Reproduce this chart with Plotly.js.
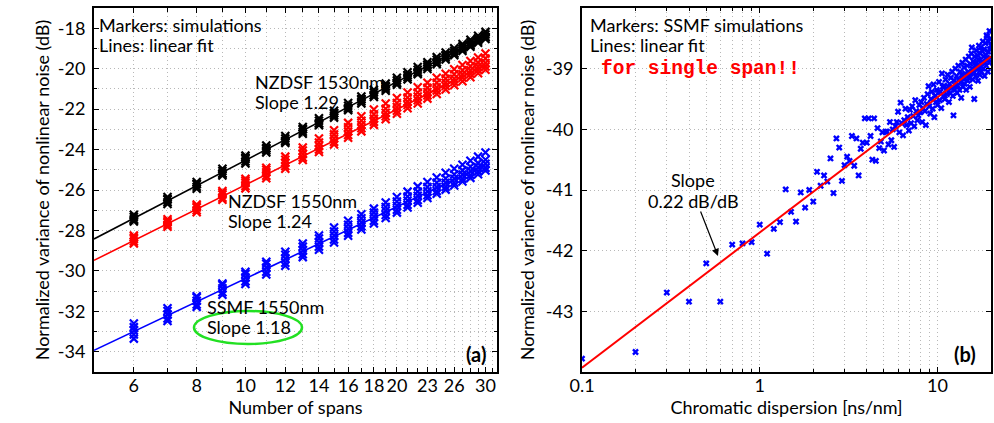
<!DOCTYPE html>
<html><head><meta charset="utf-8">
<script src="https://cdn.plot.ly/plotly-3.0.1.min.js"></script>
<style>html,body{margin:0;padding:0;background:#fff}#chart{width:994px;height:423px}</style>
</head><body><div id="chart"></div>
<script>
// ---------- Panel (a): nonlinear noise vs number of spans ----------
const spans = [6,7,8,9,10,11,12,13,14,15,16,17,18,19,20,21,22,23,24,25,26,27,28,29,30];
const spanTickVals = [6,8,10,12,14,16,18,20,23,26,30];
const spanMinorVals = [5,6,7,8,9,10,11,12,13,14,15,16,17,18,19,20,21,22,23,24,25,26,27,28,29,30,31];
const noiseTickVals = [-34,-32,-30,-28,-26,-24,-22,-20,-18];
const noiseTickText = ['-34','-32','-30','-28','-26','-24','-22','-20','-18'];
const noiseMinorVals = [-35,-33,-31,-29,-27,-25,-23,-21,-19,-17];

// NZDSF 1530nm simulations (several runs, one value per span)
const nzdsf1530Runs = [
  [-27.22,-26.35,-25.60,-24.95,-24.30,-23.80,-23.33,-22.88,-22.45,-22.08,-21.70,-21.38,-21.05,-20.74,-20.45,-20.18,-19.92,-19.68,-19.43,-19.20,-18.99,-18.78,-18.57,-18.37,-18.18],
  [-27.33,-26.47,-25.71,-25.06,-24.47,-23.93,-23.45,-22.99,-22.58,-22.20,-21.83,-21.50,-21.18,-20.87,-20.58,-20.31,-20.05,-19.80,-19.56,-19.33,-19.12,-18.90,-18.70,-18.50,-18.31],
  [-27.45,-26.60,-25.84,-25.18,-24.59,-24.05,-23.57,-23.12,-22.70,-22.32,-21.95,-21.62,-21.30,-20.99,-20.70,-20.43,-20.17,-19.92,-19.68,-19.45,-19.24,-19.02,-18.82,-18.62,-18.43],
  [-27.56,-26.69,-25.94,-25.28,-24.69,-24.15,-23.67,-23.22,-22.80,-22.42,-22.05,-21.72,-21.40,-21.09,-20.80,-20.53,-20.27,-20.02,-19.78,-19.55,-19.34,-19.12,-18.92,-18.72,-18.53],
  [-27.50,-26.45,-25.70,-25.20,-24.40,-23.95,-23.60,-23.00,-22.72,-22.20,-21.98,-21.52,-21.32,-20.88,-20.72,-20.33,-20.20,-19.82,-19.70,-19.35,-19.27,-18.92,-18.85,-18.52,-18.45]
];
// NZDSF 1550nm simulations
const nzdsf1550Runs = [
  [-28.25,-27.45,-26.72,-26.05,-25.45,-24.90,-24.35,-23.90,-23.45,-23.05,-22.68,-22.35,-22.02,-21.72,-21.45,-21.18,-20.92,-20.70,-20.45,-20.25,-20.03,-19.82,-19.62,-19.45,-19.25],
  [-28.35,-27.55,-26.80,-26.12,-25.55,-25.00,-24.50,-24.05,-23.65,-23.25,-22.90,-22.58,-22.25,-21.98,-21.70,-21.43,-21.18,-20.95,-20.70,-20.50,-20.28,-20.08,-19.88,-19.70,-19.50],
  [-28.42,-27.60,-26.87,-26.22,-25.65,-25.12,-24.65,-24.22,-23.82,-23.45,-23.10,-22.78,-22.47,-22.18,-21.90,-21.63,-21.38,-21.15,-20.92,-20.70,-20.50,-20.28,-20.08,-19.90,-19.72],
  [-28.55,-27.72,-27.00,-26.38,-25.80,-25.30,-24.82,-24.40,-24.00,-23.62,-23.28,-22.95,-22.63,-22.35,-22.08,-21.80,-21.56,-21.32,-21.08,-20.86,-20.66,-20.45,-20.26,-20.07,-19.89],
  [-28.65,-27.82,-27.10,-26.48,-25.92,-25.42,-24.95,-24.52,-24.12,-23.75,-23.42,-23.10,-22.78,-22.50,-22.23,-21.96,-21.72,-21.48,-21.25,-21.03,-20.82,-20.62,-20.42,-20.23,-20.05]
];
// SSMF 1550nm simulations
const ssmf1550Runs = [
  [-32.60,-31.85,-31.25,-30.62,-30.05,-29.55,-29.05,-28.65,-28.25,-27.85,-27.52,-27.20,-26.92,-26.62,-26.35,-26.08,-25.82,-25.60,-25.38,-25.15,-24.95,-24.75,-24.55,-24.35,-24.15],
  [-32.78,-31.98,-31.32,-30.70,-30.15,-29.65,-29.20,-28.80,-28.40,-28.05,-27.72,-27.40,-27.12,-26.84,-26.57,-26.32,-26.08,-25.85,-25.64,-25.43,-25.23,-25.03,-24.85,-24.67,-24.50],
  [-32.95,-32.15,-31.48,-30.86,-30.32,-29.84,-29.40,-28.98,-28.60,-28.25,-27.92,-27.60,-27.32,-27.03,-26.78,-26.52,-26.28,-26.06,-25.85,-25.64,-25.44,-25.24,-25.06,-24.88,-24.70],
  [-33.15,-32.35,-31.66,-31.06,-30.52,-30.04,-29.60,-29.18,-28.80,-28.45,-28.12,-27.80,-27.52,-27.24,-26.98,-26.73,-26.49,-26.26,-26.05,-25.84,-25.64,-25.44,-25.26,-25.08,-24.90],
  [-33.35,-32.48,-31.78,-31.18,-30.65,-30.18,-29.75,-29.32,-28.95,-28.60,-28.26,-27.95,-27.66,-27.38,-27.12,-26.87,-26.63,-26.40,-26.19,-25.98,-25.78,-25.58,-25.40,-25.22,-25.04]
];
// Linear fits (end points)
const fitSpans = [5, 30];
const nzdsf1530Fit = [-28.42, -18.38];
const nzdsf1550Fit = [-29.48, -19.83];
const ssmf1550Fit  = [-33.93, -24.75];

// ---------- Panel (b): single span, noise vs chromatic dispersion ----------
const dispTickVals = [0.1, 1, 10];
const dispTickText = ['0.1', '1', '10'];
const dispMinorVals = [0.2,0.3,0.4,0.5,0.6,0.7,0.8,0.9,2,3,4,5,6,7,8,9,20];
const singleTickVals = [-43,-42,-41,-40,-39];
const singleTickText = ['-43','-42','-41','-40','-39'];
const singleSpanSims = [
 [0.1,-43.78],[0.2,-43.67],[0.3,-42.69],[0.4,-42.84],[0.5,-42.21],[0.6,-42.84],[0.7,-41.90],[0.8,-41.88],[0.9,-41.86],
 [1.0,-41.57],[1.1,-42.05],[1.2,-41.64],[1.3,-41.53],[1.4,-40.99],[1.5,-41.36],[1.6,-41.52],[1.7,-41.04],[1.8,-41.29],[1.9,-41.00],[2.0,-41.19],
 [2.1,-40.70],[2.2,-40.93],[2.3,-40.76],[2.4,-40.86],[2.5,-40.48],[2.6,-41.05],[2.7,-40.15],[2.8,-40.30],[2.9,-40.85],[3.0,-40.59],
 [3.1,-40.45],[3.2,-40.52],[3.3,-40.11],[3.4,-40.60],[3.5,-40.15],[3.6,-40.76],[3.7,-40.32],[3.8,-40.22],[3.9,-39.82],[4.0,-40.22],
 [4.1,-39.82],[4.2,-40.11],[4.3,-40.50],[4.4,-39.82],[4.5,-40.52],[4.6,-39.98],[4.7,-40.31],[4.8,-40.20],[4.9,-40.05],[5.0,-40.35],
 [5.1,-40.04],[5.2,-40.04],[5.3,-40.25],[5.4,-39.88],[5.5,-40.18],[5.6,-40.00],[5.7,-40.29],[5.8,-39.95],[5.9,-39.88],[6.0,-39.71],
 [6.1,-40.05],[6.2,-39.56],[6.3,-39.90],[6.4,-40.10],[6.5,-39.85],[6.6,-39.66],[6.7,-39.93],[6.8,-39.80],[6.9,-40.02],[7.0,-39.68],
 [7.1,-39.90],[7.2,-39.62],[7.3,-39.78],[7.4,-39.95],[7.5,-39.52],[7.6,-39.70],[7.7,-39.85],[7.8,-39.77],[7.9,-39.60],[8.0,-39.72],
 [8.1,-39.55],[8.2,-39.88],[8.3,-39.65],[8.4,-39.48],[8.5,-39.70],[8.6,-39.93],[8.7,-39.58],[8.8,-39.42],[8.9,-39.29],[9.0,-39.62],
 [9.1,-39.74],[9.2,-39.50],[9.3,-39.38],[9.4,-39.66],[9.5,-39.26],[9.6,-39.80],[9.7,-39.45],[9.8,-39.55],[9.9,-39.35],[10.0,-39.60],
 [10.1,-39.40],[10.2,-39.22],[10.3,-39.52],[10.4,-39.38],[10.5,-39.65],[10.6,-39.08],[10.7,-39.30],[10.8,-39.45],[10.9,-39.28],[11.0,-39.50],
 [11.1,-39.18],[11.2,-39.35],[11.3,-39.42],[11.4,-39.10],[11.5,-39.30],[11.6,-39.55],[11.7,-39.25],[11.8,-39.40],[11.9,-39.15],[12.0,-39.32],
 [12.1,-39.05],[12.2,-39.45],[12.3,-39.77],[12.4,-39.20],[12.5,-39.35],[12.6,-39.00],[12.7,-39.28],[12.8,-39.12],[12.9,-39.40],[13.0,-39.28],
 [13.1,-38.95],[13.2,-39.18],[13.3,-39.35],[13.4,-39.05],[13.5,-39.22],[13.6,-39.48],[13.7,-39.10],[13.8,-38.90],[13.9,-39.30],[14.0,-39.17],
 [14.1,-38.98],[14.2,-39.25],[14.3,-39.08],[14.4,-38.85],[14.5,-39.35],[14.6,-39.12],[14.7,-38.95],[14.8,-39.20],[14.9,-39.05],[15.0,-38.80],
 [15.1,-39.15],[15.2,-39.30],[15.3,-38.92],[15.4,-39.08],[15.5,-38.75],[15.6,-38.65],[15.7,-39.00],[15.8,-39.18],[15.9,-38.88],[16.0,-39.05],
 [16.1,-39.50],[16.2,-38.80],[16.3,-38.95],[16.4,-39.12],[16.5,-38.70],[16.6,-38.90],[16.7,-39.02],[16.8,-38.78],[16.9,-39.20],[17.0,-38.85],
 [17.1,-38.62],[17.2,-38.98],[17.3,-39.10],[17.4,-38.75],[17.5,-38.65],[17.6,-38.92],[17.7,-39.05],[17.8,-38.70],[17.9,-38.88],[18.0,-38.55],
 [18.1,-39.00],[18.2,-38.80],[18.3,-38.68],[18.4,-39.12],[18.5,-38.90],[18.6,-38.58],[18.7,-38.78],[18.8,-38.95],[18.9,-38.45],[19.0,-38.47],
 [19.1,-38.85],[19.2,-39.05],[19.3,-38.72],[19.4,-38.55],[19.5,-38.90],[19.6,-38.38],[19.7,-38.68],[19.8,-38.82],[19.9,-38.50],[20.0,-38.62]
];
const dispFitX = [0.1, 20];
const dispFitY = [-43.93, -38.80];

// ---------- build ----------
const W = 994, H = 423;
const FONT = 'Lato, "Open Sans", sans-serif';
const FS = 18;
const px = v => v / W, py = v => 1 - v / H;

function runTrace(runs, color) {
  return {
    type: 'scatter', mode: 'markers', xaxis: 'x', yaxis: 'y',
    x: runs.flatMap(() => spans), y: runs.flat(),
    marker: { symbol: 'x-thin', size: 8, color: color, line: { color: color, width: 2.2 } },
    hoverinfo: 'x+y'
  };
}
function fitTrace(vals, color) {
  return { type: 'scatter', mode: 'lines', xaxis: 'x', yaxis: 'y', x: fitSpans, y: vals,
           line: { color: color, width: 1.6 } };
}

const data = [
  runTrace(nzdsf1530Runs, '#000000'), runTrace(nzdsf1550Runs, '#ff0000'), runTrace(ssmf1550Runs, '#0000ff'),
  fitTrace(nzdsf1530Fit, '#000000'), fitTrace(nzdsf1550Fit, '#ff0000'), fitTrace(ssmf1550Fit, '#0000ff'),
  { type: 'scatter', mode: 'markers', xaxis: 'x2', yaxis: 'y2',
    x: singleSpanSims.map(p => p[0]), y: singleSpanSims.map(p => p[1]),
    marker: { symbol: 'x', size: 6, color: '#0000ff' } },
  { type: 'scatter', mode: 'lines', xaxis: 'x2', yaxis: 'y2', x: dispFitX, y: dispFitY,
    line: { color: '#ff0000', width: 2 } }
];

const GRID = '#b8b8b8';
const GDASH = '1px,3px';
const axisCommon = {
  showline: true, linewidth: 2, linecolor: '#000', mirror: 'ticks',
  ticks: 'inside', ticklen: 5, tickwidth: 1, tickcolor: '#000',
  showgrid: true, gridcolor: GRID, griddash: GDASH, gridwidth: 1,
  zeroline: false,
  tickfont: { family: FONT, size: FS, color: '#000' }
};
const titleFont = { family: FONT, size: FS, color: '#000' };
const yDomain = [py(372), py(8)];

function note(x, y, text, extra) {
  return Object.assign({ xref: 'paper', yref: 'paper', x: px(x), y: py(y), xanchor: 'left', yanchor: 'middle',
    align: 'left', showarrow: false, borderpad: 0, text: text }, extra || {});
}

const layout = {
  width: W, height: H, margin: { l: 0, r: 0, t: 0, b: 0 },
  paper_bgcolor: '#fff', plot_bgcolor: '#fff', showlegend: false,
  font: { family: FONT, size: FS, color: '#000' },
  xaxis: Object.assign({}, axisCommon, {
    type: 'log', domain: [px(94), px(497)], range: [Math.log10(5), 1.5], anchor: 'y',
    tickmode: 'array', tickvals: spanTickVals, ticktext: spanTickVals.map(String), ticklabelstandoff: -4,
    minor: { tickvals: spanMinorVals, ticks: 'inside', ticklen: 4, tickcolor: '#000', showgrid: true, gridcolor: GRID, griddash: GDASH },
    title: { text: 'Number of spans', font: titleFont, standoff: 6 }
  }),
  yaxis: Object.assign({}, axisCommon, {
    domain: yDomain, range: [-35, -17], anchor: 'x',
    tickmode: 'array', tickvals: noiseTickVals, ticktext: noiseTickText, ticklabelstandoff: 3,
    minor: { tickvals: noiseMinorVals, ticks: 'inside', ticklen: 3, tickcolor: '#000', showgrid: true, gridcolor: GRID, griddash: GDASH },
    title: { text: 'Normalized variance of nonlinear noise (dB)', font: titleFont, standoff: 4 }
  }),
  xaxis2: Object.assign({}, axisCommon, {
    type: 'log', domain: [px(582), px(991)], range: [-1, Math.log10(20)], anchor: 'y2',
    tickmode: 'array', tickvals: dispTickVals, ticktext: dispTickText, ticklabelstandoff: -4,
    minor: { tickvals: dispMinorVals, ticks: 'inside', ticklen: 3, tickcolor: '#000', showgrid: true, gridcolor: GRID, griddash: GDASH },
    title: { text: 'Chromatic dispersion [ns/nm]', font: titleFont, standoff: 6 }
  }),
  yaxis2: Object.assign({}, axisCommon, {
    domain: yDomain, range: [-44, -38], anchor: 'x2',
    tickmode: 'array', tickvals: singleTickVals, ticktext: singleTickText, ticklabelstandoff: 3,
    title: { text: 'Normalized variance of nonlinear noise (dB)', font: titleFont, standoff: 7 }
  }),
  annotations: [
    note(98, 25, 'Markers: simulations'),
    note(98, 45, 'Lines: linear fit'),
    note(254, 82, 'NZDSF 1530nm'),
    note(254, 102, 'Slope 1.29'),
    note(227, 201, 'NZDSF 1550nm'),
    note(227, 221, 'Slope 1.24'),
    note(206, 307, 'SSMF 1550nm'),
    note(206, 327, 'Slope 1.18'),
    note(487, 354, '<b>(a)</b>', { xanchor: 'right', font: { family: FONT, size: 20, color: '#000' } }),
    note(589, 25, 'Markers: SSMF simulations'),
    note(589, 45, 'Lines: linear fit'),
    note(600, 69, '<b>for single span!!</b>', { font: { family: '"Liberation Mono", "Courier New", monospace', size: 19.5, color: '#ff0000' } }),
    note(693, 180, 'Slope', { xanchor: 'center', align: 'center' }),
    note(693, 201, '0.22 dB/dB', { xanchor: 'center', align: 'center' }),
    { xref: 'paper', yref: 'paper', x: px(718), y: py(256), ax: -18, ay: -46, text: '', showarrow: true,
      arrowhead: 2, arrowsize: 1.2, arrowwidth: 1.2, arrowcolor: '#000', standoff: 0 },
    note(977, 354, '<b>(b)</b>', { xanchor: 'right', font: { family: FONT, size: 20, color: '#000' } })
  ],
  shapes: [
    { type: 'circle', xref: 'paper', yref: 'paper', x0: px(194), x1: px(302), y0: py(344), y1: py(311),
      line: { color: '#22e022', width: 2.5 }, fillcolor: 'rgba(0,0,0,0)' }
  ]
};

Plotly.newPlot('chart', data, layout, { displayModeBar: false, staticPlot: true });
</script></body></html>
